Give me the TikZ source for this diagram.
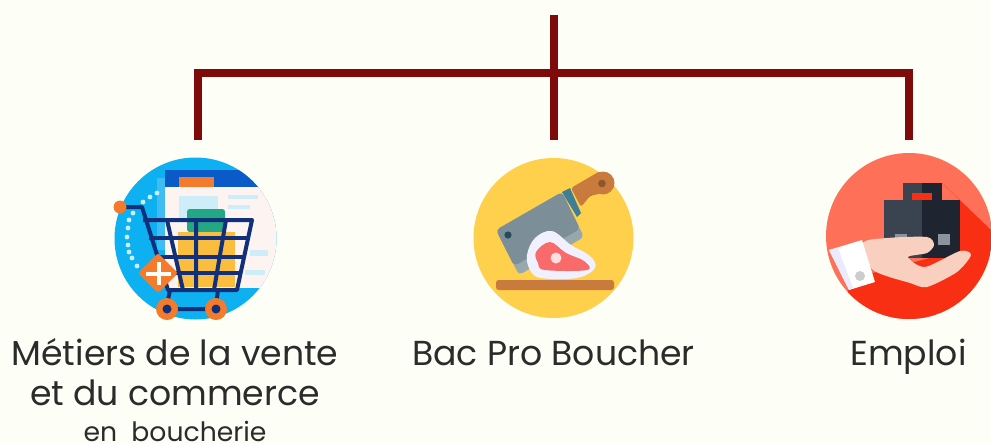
\documentclass[tikz,border=0pt]{standalone}
\usepackage{fontspec}
\setmainfont{Poppins}
\definecolor{fondpage}{HTML}{FDFFF6}
\definecolor{rougebar}{HTML}{7F0A0A}
\definecolor{texte}{HTML}{2B2B2B}
\definecolor{bleuciel}{HTML}{0DB0F0}
\definecolor{bleustrip}{HTML}{3FBDF2}
\definecolor{bleuhaut}{HTML}{0A5BC8}
\definecolor{bleupale}{HTML}{CDEEF8}
\definecolor{fenetre}{HTML}{FDF3F0}
\definecolor{bleunuit}{HTML}{12307A}
\definecolor{orangeicon}{HTML}{F47A2C}
\definecolor{jaunecarre}{HTML}{FBBD3E}
\definecolor{vertcarre}{HTML}{22A884}
\definecolor{jaunerond}{HTML}{FFD04B}
\definecolor{bois}{HTML}{C97B3E}
\definecolor{lame}{HTML}{7C8F98}
\definecolor{lamefonce}{HTML}{96A8AC}
\definecolor{virole}{HTML}{3F7F95}
\definecolor{viande}{HTML}{F96A6A}
\definecolor{saumon}{HTML}{FF7058}
\definecolor{rougevif}{HTML}{F82F12}
\definecolor{peau}{HTML}{F9CFBF}
\definecolor{malleclair}{HTML}{3A4350}
\definecolor{mallefonce}{HTML}{1E2530}
\definecolor{fermoir}{HTML}{8B949C}
\tikzset{every picture/.style={line width=0.75pt}}
\tikzset{
  barre/.style={draw=rougebar,line width=6pt},
  rond/.style={circle,inner sep=0pt,minimum size=#1*0.75pt},
  fildecaddie/.style={draw=bleunuit,line width=3pt},
  titre/.style={font=\fontsize{26}{30}\selectfont,text=texte,anchor=base,inner sep=0pt},
  soustitre/.style={font=\fontsize{20}{24}\selectfont,text=texte,anchor=base,inner sep=0pt}
}

\begin{document}
\begin{tikzpicture}[x=0.75pt,y=0.75pt,yscale=-1,xscale=1]
\useasboundingbox (0,0) rectangle (991,443);
\fill [fondpage] (0,0) rectangle (991,443);

%Coordinates of the tree
\coordinate (racine) at (553.5,15);
\coordinate (centre) at (553.5,73);
\coordinate (coingauche) at (198,73);
\coordinate (coindroit) at (909,73);
\coordinate (fingauche) at (198,140);
\coordinate (fincentre) at (553.5,140);
\coordinate (findroit) at (909,140);

%Straight Lines
\draw [barre] (racine) -- (fincentre);
\draw [barre] (fingauche) -- (coingauche) -- (coindroit) -- (findroit);

%Shape: Circle, cart
\node [rond=162,fill=bleuciel] (iconepanier) at (195.5,238.5) {};
\begin{scope}
\clip (195.5,238.5) circle (81);
\fill [fill=bleustrip] (157,178) rectangle (165,250);
\fill [fill=fenetre] (165,170) rectangle (280,288);
\fill [fill=bleuhaut] (165,170) rectangle (280,187);
\fill [fill=orangeicon] (179,177) rectangle (214,187);
\fill [fill=bleupale] (179,196) rectangle (218,222);
\fill [fill=bleupale] (228,195) rectangle (258,199);
\fill [fill=bleupale] (228,205) rectangle (250,209);
\fill [fill=bleupale] (250,250) rectangle (268,256);
\fill [fill=bleupale] (245,270) rectangle (265,275);
\end{scope}
%Contents of the cart
\fill [fill=vertcarre,rounded corners=2] (187,209) rectangle (225,232);
\fill [fill=jaunecarre] (178,232) rectangle (235,287);
\foreach \px/\py in {157/193,150/197,143/202,133/213,129/220,128/228,127/237,128/245,129/252,132/258,137/266}
  \fill [bleupale] (\px,\py) circle (2.4);
\draw [fildecaddie,line join=round] (120,207) -- (142,207) -- (168,290) -- (237,290) -- (252,220) -- (143,220);
\draw [fildecaddie] (149,238) -- (247,238) (155,257) -- (244,257) (160,273) -- (240,273);
\draw [fildecaddie] (167,220) -- (183,290) (196,220) -- (196,290) (226,220) -- (214,290);
\draw [fildecaddie] (170,290) -- (167,305) (218,290) -- (216,305) (167,309) -- (216,309);
\fill [fill=orangeicon] (120,207) circle (6.5);
\foreach \px in {167,216}{
  \fill [fill=orangeicon] (\px,309) circle (11);
  \fill [fill=bleunuit] (\px,309) circle (4.5);
}
\fill [fill=orangeicon,rounded corners=2] (158,253) -- (178,273) -- (158,293) -- (138,273) -- cycle;
\fill [fill=fondpage] (146,271.5) rectangle (171,275.5);
\fill [fill=fondpage] (156.5,262) rectangle (160.5,285);

%Shape: Circle, cleaver
\node [rond=160,fill=jaunerond] (iconecouteau) at (553.5,238) {};
\fill [fill=bois,rounded corners=2] (496,280) rectangle (614,290);
\fill [fill=lamefonce,rounded corners=3] (496,230) -- (562,192) -- (584,237) -- (519,275) -- cycle;
\fill [fill=lame,rounded corners=3] (496,230) -- (562,192) -- (580,229) -- (514,266) -- cycle;
\fill [fill=virole] (562,192) -- (570,188) -- (581,213) -- (577,217) -- cycle;
\fill [fill=bois,rounded corners=2] (571,188) -- (600,171) -- (607,192) -- (590,196) -- (581,207) -- cycle;
\fill [fill=bois] (603,183) circle (11.5);
\fill [fill=bois!70!black] (602,183.5) circle (3.8);
\fill [fill=virole!60!black] (508,235) circle (3.6);
\fill [fill=blue!6!white] plot [smooth cycle,tension=0.6] coordinates {(527,255) (535,238) (552,231) (571,245) (590,256) (595,268) (577,278) (541,278) (530,270)};
\fill [fill=viande] plot [smooth cycle,tension=0.6] coordinates {(536,252) (550,242) (566,253) (584,261) (587,270) (545,270) (538,263)};
\fill [fill=pink!50!white] (556,258) circle (5.5);

%Shape: Circle, hand and case
\node [rond=166,fill=saumon] (iconeemploi) at (909,236) {};
\begin{scope}
\clip (909,236) circle (83);
\fill [fill=rougevif] (942,183) -- (991,230) -- (1000,330) -- (843,330) -- (848,290) -- (873,273) -- (960,250) -- (960,200) -- cycle;
\end{scope}
\fill [fill=malleclair] (903,183) rectangle (922,200);
\fill [fill=mallefonce] (922,183) rectangle (942,200);
\fill [fill=rougevif] (912,193) rectangle (932,200);
\fill [fill=malleclair] (884,200) rectangle (922,258);
\fill [fill=mallefonce] (922,200) rectangle (960,258);
\fill [fill=fermoir] (895,234) rectangle (907,240);
\fill [fill=fermoir] (938,234) rectangle (950,245);
\fill [fill=peau] plot [smooth cycle,tension=0.45] coordinates {(863,243) (887,238) (927,237) (934,245) (927,253) (908,257) (925,267) (960,251) (971,255) (957,272) (927,287) (910,283) (873,270)};
\fill [fill=white] (829,250) -- (862,240) -- (875,282) -- (849,290) -- cycle;
\fill [fill=blue!8!white] (829,250) -- (838,248) -- (853,288) -- (849,290) -- cycle;
\fill [fill=gray!40!white] (860,276) circle (5);

% Text Node
\draw (175,365) node (titrevente) [titre] {Métiers de la vente};
% Text Node
\draw (175,405) node (titrecommerce) [titre] {et du commerce};
% Text Node
\draw (175,441) node (titreboucherie) [soustitre] {en\ \ boucherie};
% Text Node
\draw (553.5,365) node (titrebac) [titre] {Bac Pro Boucher};
% Text Node
\draw (908.5,365) node (titreemploi) [titre] {Emploi};

\end{tikzpicture}
\end{document}
